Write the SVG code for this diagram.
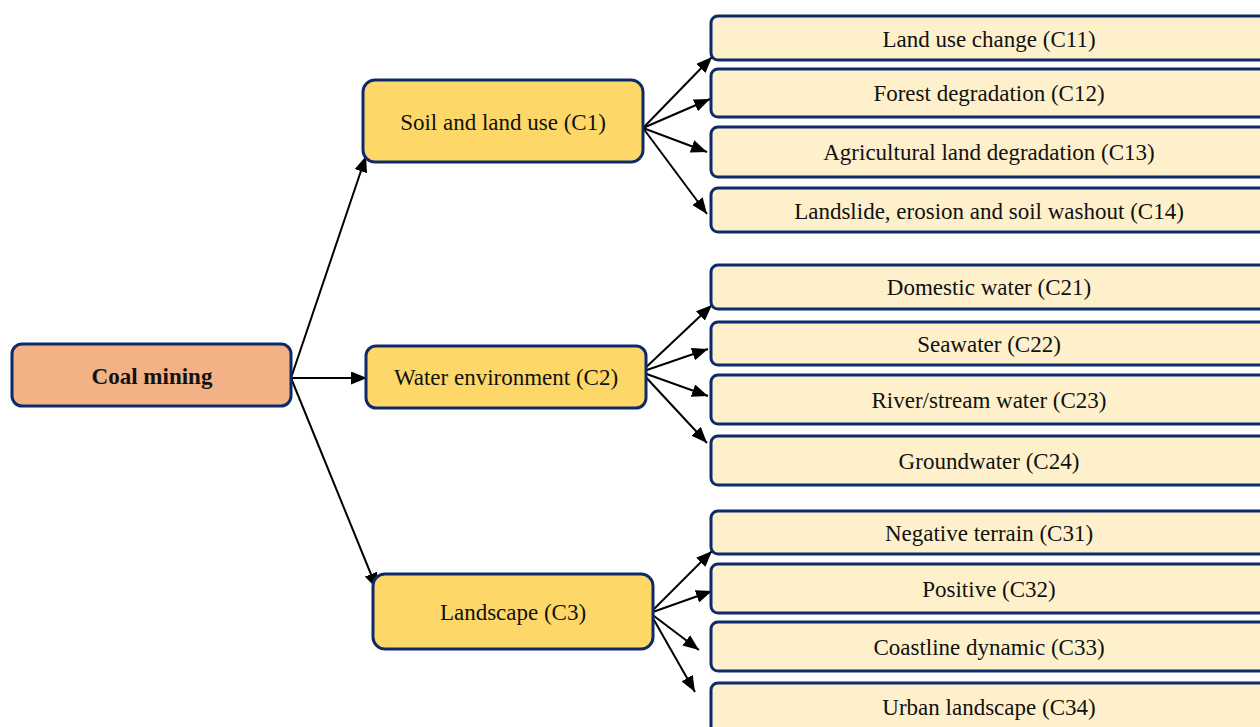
<svg xmlns="http://www.w3.org/2000/svg" width="1260" height="727" viewBox="0 0 1260 727">
<defs>
<marker id="ah" viewBox="0 0 16 13" refX="16" refY="6.5" markerWidth="16" markerHeight="13" markerUnits="userSpaceOnUse" orient="auto">
<path d="M0,0 L16,6.5 L0,13 Z" fill="#000"/>
</marker>
<style>
.b{stroke:#0d2a6b;stroke-width:3}
.root{fill:#F3B186}
.mid{fill:#FDD868}
.leaf{fill:#FEF0CB}
text{font-family:"Liberation Serif","Times New Roman",serif;font-size:23px;fill:#111;text-anchor:middle;dominant-baseline:central}
.c{stroke:#000;stroke-width:2;fill:none;marker-end:url(#ah)}
</style>
</defs>
<rect width="1260" height="727" fill="#fff"/>
<g id="connectors">
<line class="c" x1="291" y1="378" x2="366" y2="156"/>
<line class="c" x1="291" y1="378" x2="367" y2="378"/>
<line class="c" x1="291" y1="378" x2="377" y2="589"/>
<line class="c" x1="643" y1="128" x2="712" y2="57"/>
<line class="c" x1="643" y1="128" x2="710" y2="99"/>
<line class="c" x1="643" y1="128" x2="707" y2="152"/>
<line class="c" x1="643" y1="128" x2="707" y2="214"/>
<line class="c" x1="641" y1="372" x2="712" y2="305"/>
<line class="c" x1="641" y1="372" x2="708" y2="349"/>
<line class="c" x1="641" y1="372" x2="708" y2="396"/>
<line class="c" x1="641" y1="372" x2="707" y2="443"/>
<line class="c" x1="650" y1="613" x2="712" y2="551"/>
<line class="c" x1="650" y1="613" x2="712" y2="591"/>
<line class="c" x1="650" y1="613" x2="699" y2="650"/>
<line class="c" x1="650" y1="613" x2="695" y2="692"/>
</g>
<g id="root"><rect class="b root" x="12" y="344" width="279" height="62" rx="10"/><text x="152" y="376" font-weight="bold">Coal mining</text></g>
<g id="c1"><rect class="b mid" x="363" y="80" width="280" height="82" rx="12"/><text x="503" y="122">Soil and land use (C1)</text></g>
<g id="c2"><rect class="b mid" x="366" y="346" width="280" height="62" rx="10"/><text x="506" y="377">Water environment (C2)</text></g>
<g id="c3"><rect class="b mid" x="373" y="574" width="280" height="75" rx="12"/><text x="513" y="612">Landscape (C3)</text></g>
<g id="c11"><rect class="b leaf" x="711" y="16" width="560" height="44" rx="7"/><text x="989" y="39">Land use change (C11)</text></g>
<g id="c12"><rect class="b leaf" x="711" y="69" width="560" height="48" rx="7"/><text x="989" y="93">Forest degradation (C12)</text></g>
<g id="c13"><rect class="b leaf" x="711" y="127" width="560" height="50" rx="7"/><text x="989" y="152">Agricultural land degradation (C13)</text></g>
<g id="c14"><rect class="b leaf" x="711" y="188" width="560" height="44" rx="7"/><text x="989" y="211">Landslide, erosion and soil washout (C14)</text></g>
<g id="c21"><rect class="b leaf" x="711" y="265" width="560" height="44" rx="7"/><text x="989" y="287">Domestic water (C21)</text></g>
<g id="c22"><rect class="b leaf" x="711" y="322" width="560" height="43" rx="7"/><text x="989" y="344">Seawater (C22)</text></g>
<g id="c23"><rect class="b leaf" x="711" y="375" width="560" height="49" rx="7"/><text x="989" y="400">River/stream water (C23)</text></g>
<g id="c24"><rect class="b leaf" x="711" y="436" width="560" height="49" rx="7"/><text x="989" y="461">Groundwater (C24)</text></g>
<g id="c31"><rect class="b leaf" x="711" y="511" width="560" height="43" rx="7"/><text x="989" y="533">Negative terrain (C31)</text></g>
<g id="c32"><rect class="b leaf" x="711" y="564" width="560" height="49" rx="7"/><text x="989" y="589">Positive (C32)</text></g>
<g id="c33"><rect class="b leaf" x="711" y="622" width="560" height="49" rx="7"/><text x="989" y="647">Coastline dynamic (C33)</text></g>
<g id="c34"><rect class="b leaf" x="711" y="683" width="560" height="60" rx="7"/><text x="989" y="707">Urban landscape (C34)</text></g>
</svg>
